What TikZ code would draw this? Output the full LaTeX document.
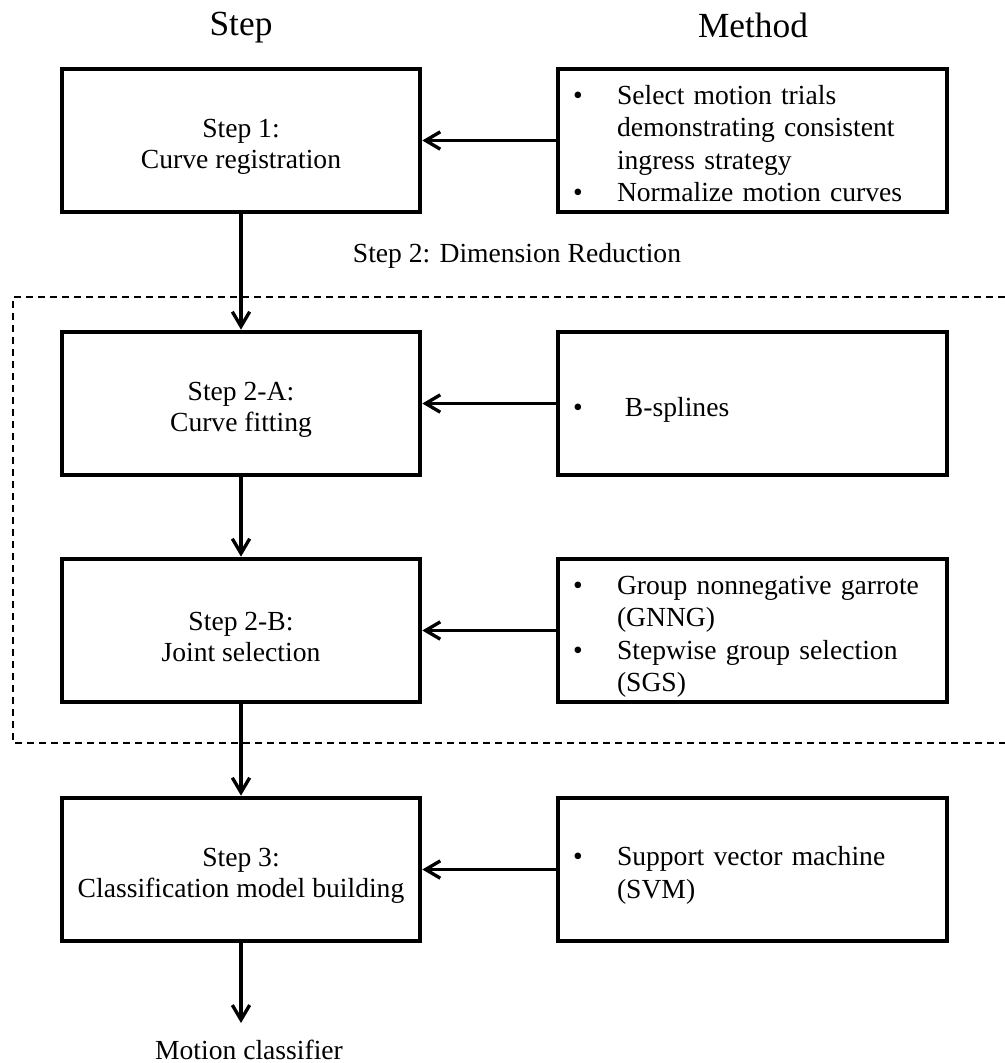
\documentclass[tikz,border=0pt]{standalone}
\usepackage{fontspec}
\setmainfont{Liberation Serif}
\usetikzlibrary{arrows.meta}
\newlength\pxu
\setlength\pxu{0.75pt}
\newcommand\stepstrut{\rule{0pt}{23.2pt}}
\newcommand\methstrut{\rule{0pt}{26.1pt}}
\begin{document}
\begin{tikzpicture}[x=0.75pt,y=-0.75pt,
  stepbox/.style={draw, line width=3.5pt, rectangle, minimum width=358\pxu, minimum height=143\pxu, inner sep=0pt, align=center, font=\fontsize{20.7}{23.5}\selectfont},
  methbox/.style={draw, line width=3.5pt, rectangle, minimum width=389\pxu, minimum height=143\pxu, inner xsep=15\pxu, inner ysep=0pt, text width=359\pxu, align=left, font=\fontsize{20.7}{24.4}\selectfont},
  conn/.style={line width=2.5pt, -{Straight Barb[length=11pt,width=13pt]}},
  lbl/.style={font=\fontsize{20.7}{24}\selectfont, inner sep=0pt},
  hdr/.style={font=\fontsize{26.5}{30}\selectfont, inner sep=0pt, anchor=base},
  dashrect/.style={line width=1.5pt, dash pattern=on 5.25pt off 3.75pt},
]
\useasboundingbox (0,0) rectangle (1005,1063);

\node[hdr] (hstep) at (241,36) {Step};
\node[hdr] (hmeth) at (753,38) {Method};

\node[stepbox] (s1) at (241,140.5) {\stepstrut Step 1:\\Curve registration};
\node[methbox] (m1) at (752.5,140.5) {\begin{tabular}{@{}p{44\pxu}@{}l@{}}\methstrut\textbullet & Select motion trials\\ & demonstrating consistent\\ & ingress strategy\\ \textbullet & Normalize motion curves\end{tabular}};

\node[lbl, anchor=base] (dimlbl) at (517,262) {Step 2: Dimension Reduction};
\draw[dashrect] (1005,297) -- (13,297) -- (13,743) -- (1005,743);

\node[stepbox] (s2a) at (241,403.5) {\stepstrut Step 2-A:\\Curve fitting};
\node[methbox] (m2a) at (752.5,403.5) {\begin{tabular}{@{}p{52\pxu}@{}l@{}}\methstrut\textbullet & B-splines\end{tabular}};

\node[stepbox] (s2b) at (241,630.5) {\stepstrut Step 2-B:\\Joint selection};
\node[methbox] (m2b) at (752.5,630.5) {\begin{tabular}{@{}p{44\pxu}@{}l@{}}\methstrut\textbullet & Group nonnegative garrote\\ & (GNNG)\\ \textbullet & Stepwise group selection\\ & (SGS)\end{tabular}};

\node[stepbox] (s3) at (241,869.5) {\stepstrut Step 3:\\Classification model building};
\node[methbox] (m3) at (752.5,869.5) {\begin{tabular}{@{}p{44\pxu}@{}l@{}}\methstrut\textbullet & Support vector machine\\ & (SVM)\end{tabular}};

\coordinate (out) at (241,1023);
\node[lbl, anchor=base] (mc) at (249,1059) {Motion classifier};

\draw[conn] (s1.south) -- (s2a.north);
\draw[conn] (s2a.south) -- (s2b.north);
\draw[conn] (s2b.south) -- (s3.north);
\draw[conn] (s3.south) -- (out);

\draw[conn] (m1.west) -- (s1.east);
\draw[conn] (m2a.west) -- (s2a.east);
\draw[conn] (m2b.west) -- (s2b.east);
\draw[conn] (m3.west) -- (s3.east);
\end{tikzpicture}
\end{document}
